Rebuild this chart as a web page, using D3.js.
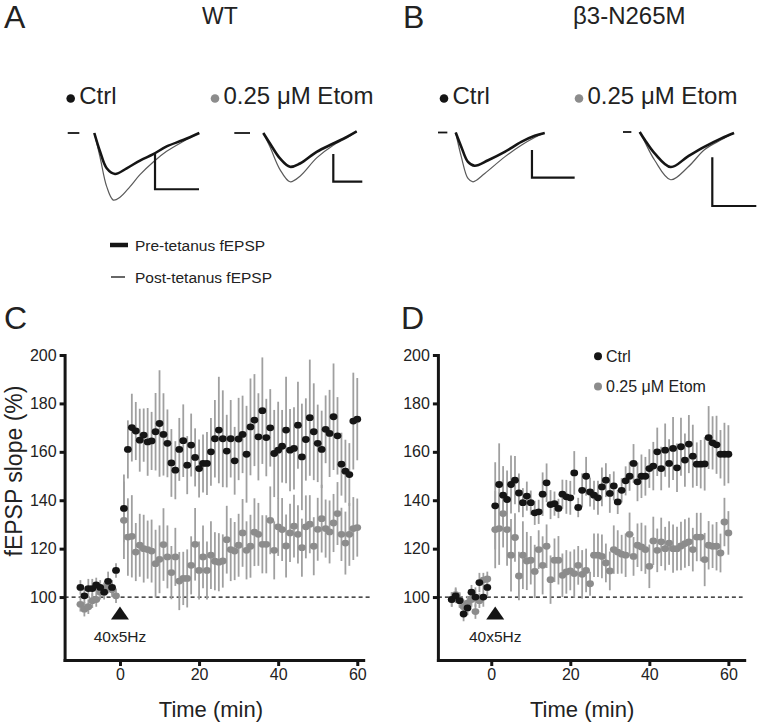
<!DOCTYPE html>
<html>
<head>
<meta charset="utf-8">
<script src="https://cdn.jsdelivr.net/npm/d3@7"></script>
<style>
body { margin: 0; background: #fff; }
svg { display: block; font-family: "Liberation Sans", Arial, sans-serif; }
</style>
</head>
<body>
<svg id="fig" width="757" height="726"></svg>
<script>
// time points (min) - baseline then post-tetanus, no sample at 0
var minutes = [-10,-9,-8,-7,-6,-5,-4,-3,-2,-1,
    1,2,3,4,5,6,7,8,9,10,11,12,13,14,15,16,17,18,19,20,
    21,22,23,24,25,26,27,28,29,30,31,32,33,34,35,36,37,38,39,40,
    41,42,43,44,45,46,47,48,49,50,51,52,53,54,55,56,57,58,59,60];

// panel C (WT)
var wt_ctrl = [104,100.5,103.5,103.5,105,104,102,106.5,104,111,
    136.6,161,170,168.6,164.8,166.9,164.1,164.5,168.3,171.7,
    167.2,163.5,155.4,152.4,161,164.6,154.5,162.8,157.7,153.1,
    155.2,155.2,160,165.4,169,165.4,160.3,165.4,156.3,165.3,
    167.2,159,170.3,173.1,166.2,177,165.9,169.9,159.3,160.7,
    162.3,169,160.7,161.4,171,157.9,165.1,174.1,168.3,163.5,
    161,169.3,167.6,174.5,166.6,154.9,152,150.6,172.7,173.5];
var wt_ctrl_sem = [3,3,4,4,3,3,3,4,3,3,
    14,12,14,12,13,11,14,12,16,22,
    17,14,14,12,13,15,12,13,12,12,
    12,13,14,16,22,20,15,16,14,17,
    16,20,20,19,18,22,16,16,18,20,
    15,22,17,17,18,22,17,24,20,16,
    16,14,18,22,16,13,13,13,20,17];
var wt_etom = [97,95,96,98.5,99,102,103,104.5,103,100.5,
    131.7,124.8,125.1,118.6,121.4,120,119.6,119,113.8,115.6,
    121.7,116.6,110.1,116.6,106.6,107.7,107.7,113.1,121.8,111,
    116.6,111,117.3,114.8,114.4,114.9,123.7,119.6,119,121.4,
    126.5,119.3,121,126.8,125.9,121.8,121.8,131.7,119.3,129,
    127.9,121.1,126.5,129.3,125.9,120.4,129,130.1,121,128,
    132.4,128.3,126.9,130.6,134.5,125.9,122.3,125.9,128.3,128.7];
var wt_etom_sem = [3,3,3,3,3,3,3,3,3,3,
    16,16,17,12,13,14,12,13,14,14,
    15,13,11,12,12,11,12,12,15,12,
    13,12,14,12,12,11,14,13,12,13,
    14,12,13,14,13,12,12,14,12,12,
    13,13,12,13,12,12,13,12,12,13,
    14,12,13,12,13,11,13,13,13,12];

// panel D (beta3-N265M)
var mut_ctrl = [99,100.5,98.5,93,95.5,102,100,106,100,104,
    137.7,146.5,142.1,140.3,146.5,148.3,143,139,141.7,139,
    134.8,135.2,142.5,147.2,138.2,138.6,136.6,142.5,141.4,141,
    151.3,137,144.1,149.9,143.4,142.1,141,145.5,148.3,142.8,
    145.9,139.3,144.1,148,149.9,155.2,147.6,149.9,149.9,153.1,
    154.1,160,153.1,160.7,155.2,161.4,153.4,162.1,156.6,163.2,
    158.2,154.9,154.9,155,165.9,163.7,162.9,159,159,159];
var mut_ctrl_sem = [3,3,3,3,3,3,4,4,4,4,
    18,17,12,12,12,10,8,6,6,5,
    5,5,9,8,6,5,4,6,7,7,
    9,4,7,8,6,6,7,8,7,8,
    6,5,5,6,6,8,8,9,8,8,
    10,10,9,11,10,13,10,12,11,12,
    13,9,10,11,13,11,12,10,13,12];
var mut_etom = [99,101,99,96,97.5,99,94,98.5,107,107.5,
    127.9,128.3,134.5,127.9,117.3,124.6,108.7,117.3,114.9,115.2,
    110.6,119.6,113.1,121,107.2,115.2,115.2,109,110.4,110.8,
    109.7,113.1,109.4,111,105.5,117.3,117.3,116.8,114.1,110.8,
    119.6,118.6,117.7,117.3,125.9,116.8,121.4,120.7,119.6,112.7,
    123.2,119.3,122.8,120,122.3,120,120,121.1,122.1,122.8,
    119.6,124.8,124.8,115.5,121.4,121,121,118.2,131,126.5];
var mut_etom_sem = [3,3,3,3,3,3,3,3,3,3,
    16,15,14,15,15,10,10,14,12,10,
    11,8,12,9,10,9,10,9,9,8,
    10,8,10,9,5,9,9,9,8,8,
    10,9,8,9,9,8,9,10,10,9,
    10,9,10,9,9,10,9,10,10,10,
    9,10,10,11,10,9,10,8,10,9];

var yTicks = [100, 120, 140, 160, 180, 200];
var xTicks = [0, 20, 40, 60];

// example fEPSP traces: [ms, mV]
var wt_ctrl_pre  = [[0,0],[0.65,-0.26],[1.41,-0.5],[2.35,-0.58],[3.68,-0.5],[5.19,-0.39],[6.7,-0.3],[8.22,-0.19],[10.1,-0.1],[11.93,0]];
var wt_ctrl_post = [[0,0],[0.65,-0.34],[1.41,-0.76],[2.16,-0.95],[2.92,-0.91],[4.06,-0.76],[5.19,-0.59],[6.7,-0.41],[8.22,-0.26],[10.1,-0.12],[11.93,0]];
var wt_etom_pre  = [[0,0],[1.15,-0.19],[2.88,-0.46],[4.6,-0.61],[6.33,-0.55],[9.2,-0.34],[12.07,-0.19],[14.4,-0.07],[16.1,0.03]];
var wt_etom_post = [[0,0],[1.15,-0.25],[2.88,-0.66],[4.6,-0.88],[6.33,-0.78],[9.2,-0.45],[12.07,-0.22],[14.4,-0.09],[16.1,0.03]];
var mut_ctrl_pre  = [[0,0],[0.66,-0.26],[1.44,-0.53],[2.22,-0.6],[3.8,-0.5],[5.74,-0.35],[7.68,-0.17],[9.25,-0.06],[10.42,-0.01]];
var mut_ctrl_post = [[0,0],[0.66,-0.44],[1.44,-0.83],[2.03,-0.89],[3.4,-0.74],[5.74,-0.44],[7.68,-0.23],[9.25,-0.09],[10.42,-0.01]];
var mut_etom_pre  = [[0,0],[0.57,-0.08],[1.7,-0.22],[3.52,-0.36],[5.49,-0.25],[7.39,-0.15],[9.27,-0.065],[10.72,-0.01]];
var mut_etom_post = [[0,0],[0.57,-0.1],[1.7,-0.29],[3.52,-0.49],[5.49,-0.36],[7.39,-0.18],[9.27,-0.08],[10.72,-0.01]];
// scale bar: 5 ms x 0.5 mV
var scaleBarMs = 5, scaleBarMv = 0.5;

var svg = d3.select("#fig");
var BLACK = "#151515", GREY = "#8c8c8c", ERR = "#a0a0a0";

// ---------- top panels A / B ----------
var insets = [
    {pre: wt_ctrl_pre, post: wt_ctrl_post, x0: 94.3, y0: 133, pxMs: 8.8, pxMv: 70.6, dash: [-3.02, -1.7], bar: [6.9, -0.797]},
    {pre: wt_etom_pre, post: wt_etom_post, x0: 263.3, y0: 133, pxMs: 5.8, pxMv: 55.4, dash: [-5.0, -2.29], bar: [12.07, -0.879]},
    {pre: mut_ctrl_pre, post: mut_ctrl_post, x0: 455.7, y0: 132.5, pxMs: 8.54, pxMv: 55.4, dash: [-2.07, -0.98], bar: [8.93, -0.816]},
    {pre: mut_etom_pre, post: mut_etom_post, x0: 639.7, y0: 132, pxMs: 8.8, pxMv: 97.4, dash: [-1.9, -0.95], bar: [8.25, -0.76]}
];

insets.forEach(function(ins){
    var tx = d3.scaleLinear().domain([0, 1]).range([ins.x0, ins.x0 + ins.pxMs]);
    var ty = d3.scaleLinear().domain([0, 1]).range([ins.y0, ins.y0 - ins.pxMv]);
    var line = d3.line().x(d => tx(d[0])).y(d => ty(d[1])).curve(d3.curveCatmullRom.alpha(0.5));
    var g = svg.append("g");
    g.append("line").attr("x1", tx(ins.dash[0])).attr("x2", tx(ins.dash[1]))
        .attr("y1", ty(0)).attr("y2", ty(0)).attr("stroke", BLACK).attr("stroke-width", 1.8);
    g.append("path").datum(ins.post).attr("d", line).attr("fill", "none")
        .attr("stroke", "#5a5a5a").attr("stroke-width", 1.2);
    g.append("path").datum(ins.pre).attr("d", line).attr("fill", "none")
        .attr("stroke", BLACK).attr("stroke-width", 2.6);
    // scale bar
    var bx = ins.bar[0], by = ins.bar[1];
    g.append("path")
        .attr("d", `M${tx(bx)},${ty(by + scaleBarMv)}V${ty(by)}H${tx(bx + scaleBarMs)}`)
        .attr("fill", "none").attr("stroke", BLACK).attr("stroke-width", 2.2);
});

// panel letters and titles
var letters = [["A", 4, 28], ["B", 403, 28], ["C", 4, 329], ["D", 401, 329]];
svg.selectAll("text.letter").data(letters).enter().append("text").attr("class", "letter")
    .attr("x", d => d[0] === "A" || d[0] === "C" ? d[1] : d[1]).attr("y", d => d[2])
    .attr("font-size", 32).attr("fill", "#222").text(d => d[0]);

svg.append("text").attr("x", 202).attr("y", 23.5).attr("font-size", 23).attr("fill", "#222").text("WT");
svg.append("text").attr("x", 573).attr("y", 23.5).attr("font-size", 24).attr("fill", "#222").text("β3-N265M");

// condition labels above traces
var condLabels = [
    {x: 70.7, color: BLACK, text: "Ctrl"},
    {x: 215, color: GREY, text: "0.25 μM Etom"},
    {x: 444, color: BLACK, text: "Ctrl"},
    {x: 579, color: GREY, text: "0.25 μM Etom"}
];
condLabels.forEach(function(c){
    svg.append("circle").attr("cx", c.x).attr("cy", 98.5).attr("r", 4.3).attr("fill", c.color);
    svg.append("text").attr("x", c.x + 8.5).attr("y", 104).attr("font-size", 24).attr("fill", "#222").text(c.text);
});

// trace legend
svg.append("line").attr("x1", 110).attr("x2", 128).attr("y1", 245).attr("y2", 245)
    .attr("stroke", BLACK).attr("stroke-width", 4.5);
svg.append("text").attr("x", 135).attr("y", 250.5).attr("font-size", 15.5).attr("fill", "#222").text("Pre-tetanus fEPSP");
svg.append("line").attr("x1", 111).attr("x2", 125).attr("y1", 277).attr("y2", 277)
    .attr("stroke", BLACK).attr("stroke-width", 1.3);
svg.append("text").attr("x", 135).attr("y", 282.5).attr("font-size", 15.5).attr("fill", "#222").text("Post-tetanus fEPSP");

// ---------- bottom panels C / D ----------
var panels = [
    {ctrl: wt_ctrl, ctrlSem: wt_ctrl_sem, etom: wt_etom, etomSem: wt_etom_sem,
     xDomain: [-14, 61.5], xRange: [64.6, 363.2], stim: 0, yLabel: true, legend: false},
    {ctrl: mut_ctrl, ctrlSem: mut_ctrl_sem, etom: mut_etom, etomSem: mut_etom_sem,
     xDomain: [-13.5, 64], xRange: [437.9, 744.2], stim: 1, yLabel: false, legend: true}
];

panels.forEach(function(p){
    var x = d3.scaleLinear().domain(p.xDomain).range(p.xRange);
    var y = d3.scaleLinear().domain([74, 200]).range([660, 355]);
    var g = svg.append("g");

    // 100% reference line
    g.append("line").attr("x1", p.xRange[0]).attr("x2", x(63.6))
        .attr("y1", y(100)).attr("y2", y(100))
        .attr("stroke", "#111").attr("stroke-width", 1.3).attr("stroke-dasharray", "4,3");

    var series = [
        {mean: p.etom, sem: p.etomSem, fill: GREY},
        {mean: p.ctrl, sem: p.ctrlSem, fill: BLACK}
    ];
    // error bars
    series.forEach(function(s){
        g.append("g").selectAll("line").data(minutes).enter().append("line")
            .attr("x1", d => x(d)).attr("x2", d => x(d))
            .attr("y1", (d, i) => y(s.mean[i] + s.sem[i]))
            .attr("y2", (d, i) => y(s.mean[i] - s.sem[i]))
            .attr("stroke", ERR).attr("stroke-width", 1.8);
    });
    // points
    series.forEach(function(s){
        g.append("g").selectAll("ellipse").data(minutes).enter().append("ellipse")
            .attr("cx", d => x(d)).attr("cy", (d, i) => y(s.mean[i]))
            .attr("rx", 3.9).attr("ry", 3.4).attr("fill", s.fill);
    });

    // axes
    var yAxis = g.append("g").attr("transform", `translate(${p.xRange[0]},0)`)
        .call(d3.axisLeft(y).tickValues(yTicks).tickSize(5).tickPadding(3).tickSizeOuter(0));
    var xAxis = g.append("g").attr("transform", `translate(0,${y(74)})`)
        .call(d3.axisBottom(x).tickValues(xTicks).tickSize(6).tickPadding(3).tickSizeOuter(0));
    [yAxis, xAxis].forEach(function(a){
        a.attr("font-family", null);
        a.select(".domain").attr("stroke", BLACK).attr("stroke-width", 3).attr("stroke-linecap", "square");
        a.selectAll(".tick line").attr("stroke", BLACK).attr("stroke-width", 3);
        a.selectAll(".tick text").attr("font-size", 16).attr("fill", "#222");
    });

    // stimulation marker
    var sx = x(p.stim);
    g.append("path").attr("d", `M${sx - 9},619.5L${sx + 9},619.5L${sx},606.5Z`).attr("fill", BLACK);
    g.append("text").attr("x", sx).attr("y", 641.5).attr("text-anchor", "middle")
        .attr("font-size", 15.5).attr("fill", "#222").text("40x5Hz");

    // axis titles
    g.append("text").attr("x", x(23)).attr("y", 716.5).attr("text-anchor", "middle")
        .attr("font-size", 22).attr("fill", "#222").text("Time (min)");
    if (p.yLabel){
        g.append("text").attr("transform", `translate(21.5,${y(150) - 5}) rotate(-90)`)
            .attr("text-anchor", "middle").attr("font-size", 23).attr("fill", "#222").text("fEPSP slope (%)");
    }
    if (p.legend){
        var leg = [{fill: BLACK, text: "Ctrl", v: 199.5}, {fill: GREY, text: "0.25 μM Etom", v: 187}];
        leg.forEach(function(l){
            g.append("circle").attr("cx", 598).attr("cy", y(l.v)).attr("r", 4).attr("fill", l.fill);
            g.append("text").attr("x", 606).attr("y", y(l.v) + 5.5).attr("font-size", 16)
                .attr("fill", "#222").text(l.text);
        });
    }
});
</script>
</body>
</html>
